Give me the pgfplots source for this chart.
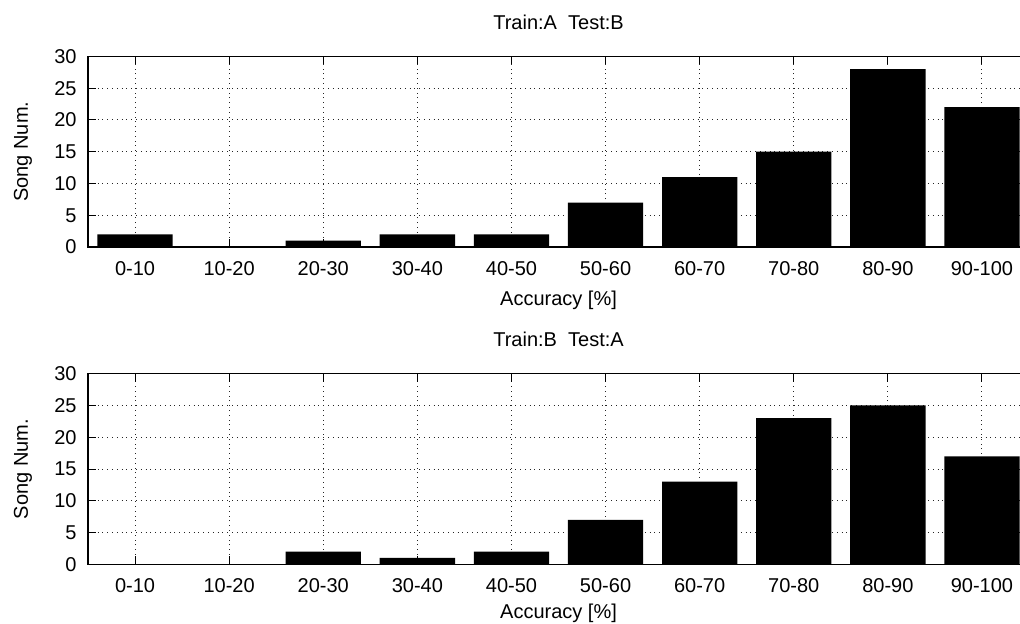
\documentclass[border=0pt]{standalone}
\usepackage{pgfplots}
\pgfplotsset{compat=1.18}
\usepackage{fontspec}
\setmainfont{Liberation Sans}
\pgfplotsset{
  histo/.style={
    scale only axis,
    width=470.5pt, height=95.3pt,
    ybar, bar width=0.8,
    xmin=-0.5, xmax=9.5, ymin=0, ymax=30,
    xtick={0,...,9},
    xticklabels={0-10,10-20,20-30,30-40,40-50,50-60,60-70,70-80,80-90,90-100},
    ytick={0,5,...,30},
    tick align=inside,
    major tick length=4pt,
    tick style={black, line width=0.5pt},
    axis line style={line width=0.6pt},
    grid=major,
    major grid style={dotted, black!85, line width=0.5pt},
    /pgf/number format/assume math mode=true,
    font=\fontsize{10}{12}\selectfont,
    ticklabel style={font=\fontsize{10}{12}\selectfont},
    xticklabel style={anchor=base, yshift=-14pt},
    yticklabel style={anchor=east, xshift=-2.2pt},
    xlabel={Accuracy [\%]},
    ylabel={Song Num.},
    xlabel style={at={(axis description cs:0.5,0)}, anchor=base, yshift=-29pt},
    ylabel style={at={(axis description cs:-0.0638,0.5)}, anchor=base, rotate=0},
    title style={at={(axis description cs:0.5,1)}, anchor=base, yshift=7.5pt},
  }
}
\begin{document}
\begin{tikzpicture}
\begin{axis}[histo, at={(44pt,188pt)}, anchor=south west, title={Train:A\ \ Test:B}]
\addplot[fill=black, draw=none] coordinates {(0,2) (1,0) (2,1) (3,2) (4,2) (5,7) (6,11) (7,15) (8,28) (9,22)};
\end{axis}
\begin{axis}[histo, at={(44pt,29.35pt)}, anchor=south west, title={Train:B\ \ Test:A},
  xlabel style={yshift=2pt}]
\addplot[fill=black, draw=none] coordinates {(0,0) (1,0) (2,2) (3,1) (4,2) (5,7) (6,13) (7,23) (8,25) (9,17)};
\end{axis}
\pgfresetboundingbox
\useasboundingbox (0,0) rectangle (510pt,311.5pt);
\end{tikzpicture}
\end{document}
